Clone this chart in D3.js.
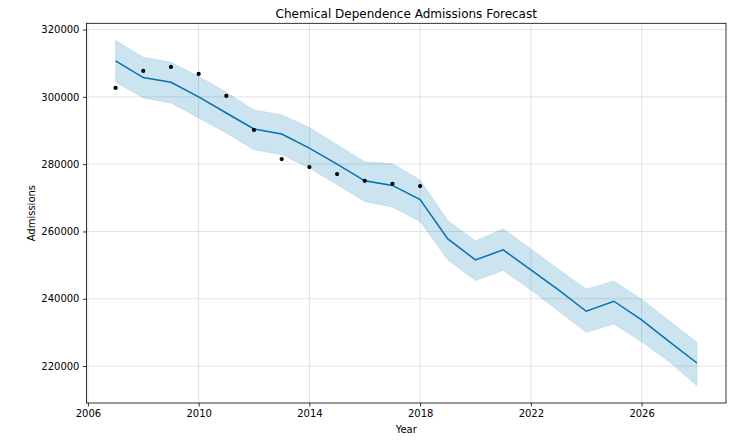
<!DOCTYPE html>
<html>
<head>
<meta charset="utf-8">
<script src="https://cdn.jsdelivr.net/npm/d3@7"></script>
<style>
  body { margin: 0; background: #fff; }
  svg { display: block; font-family: "DejaVu Sans", sans-serif; }
</style>
</head>
<body>
<svg id="chart" width="746" height="441"></svg>
<script>
// observed yearly admissions (2007-2018)
var histYears = [2007, 2008, 2009, 2010, 2011, 2012, 2013, 2014, 2015, 2016, 2017, 2018];
var actual = [302650, 307700, 308900, 306800, 300270, 290150, 281520, 279140, 277050, 275060, 274170, 273480];

// forecast (2007-2028)
var fcYears = [2007, 2008, 2009, 2010, 2011, 2012, 2013, 2014, 2015, 2016, 2017,
  2018, 2019, 2020, 2021, 2022, 2023, 2024, 2025, 2026, 2027, 2028];
var yhat = [310690, 305720, 304330, 299970, 295200, 290450, 288960, 284790, 280030, 275060, 273670,
  269500, 257800, 251550, 254530, 248580, 242620, 236280, 239260, 233700, 227240, 220900];
var yhatUpper = [316730, 311760, 310270, 306100, 301350, 296100, 294700, 290930, 285780, 280720, 280120,
  275300, 263250, 257200, 260780, 254820, 248780, 242830, 245300, 239850, 233500, 227060];
var yhatLower = [304420, 299670, 298180, 293720, 289250, 284290, 282800, 278840, 273870, 268900, 267230,
  262950, 251550, 245400, 248400, 242620, 236380, 230030, 232500, 227240, 221290, 214150];

var yTicks = [220000, 240000, 260000, 280000, 300000, 320000];
var xTicks = [2006, 2010, 2014, 2018, 2022, 2026];

var W = 746, H = 441;
var m = { top: 23.3, right: 20, bottom: 38, left: 86.5 };
var iw = W - m.left - m.right, ih = H - m.top - m.bottom;
var blue = "#0072B2";

function dt(y) { return new Date(y, 0, 1); }

var fc = fcYears.map(function(y, i) {
  return { d: dt(y), v: yhat[i], hi: yhatUpper[i], lo: yhatLower[i] };
});
var hist = histYears.map(function(y, i) { return { d: dt(y), v: actual[i] }; });

// matplotlib style 5% padding
var t0 = dt(fcYears[0]).getTime(), t1 = dt(fcYears[fcYears.length - 1]).getTime();
var tp = (t1 - t0) * 0.05;
var vmin = d3.min(yhatLower), vmax = d3.max(yhatUpper);
var vp = (vmax - vmin) * 0.05;

var x = d3.scaleTime().domain([new Date(t0 - tp), new Date(t1 + tp)]).range([0, iw]);
var y = d3.scaleLinear().domain([vmin - vp, vmax + vp]).range([ih, 0]);

var svg = d3.select("#chart");
var g = svg.append("g").attr("transform", "translate(" + m.left + "," + m.top + ")");

// grid
g.append("g").selectAll("line").data(xTicks).join("line")
  .attr("x1", function(d) { return x(dt(d)); }).attr("x2", function(d) { return x(dt(d)); })
  .attr("y1", 0).attr("y2", ih)
  .attr("stroke", "#808080").attr("stroke-opacity", 0.22).attr("stroke-width", 1);
g.append("g").selectAll("line").data(yTicks).join("line")
  .attr("y1", function(d) { return y(d); }).attr("y2", function(d) { return y(d); })
  .attr("x1", 0).attr("x2", iw)
  .attr("stroke", "#808080").attr("stroke-opacity", 0.22).attr("stroke-width", 1);

// uncertainty band
g.append("path").datum(fc)
  .attr("fill", blue).attr("fill-opacity", 0.2)
  .attr("stroke", blue).attr("stroke-opacity", 0.12).attr("stroke-width", 1)
  .attr("d", d3.area()
    .x(function(d) { return x(d.d); })
    .y0(function(d) { return y(d.lo); })
    .y1(function(d) { return y(d.hi); }));

// forecast line
g.append("path").datum(fc)
  .attr("fill", "none").attr("stroke", blue).attr("stroke-width", 1.5)
  .attr("d", d3.line().x(function(d) { return x(d.d); }).y(function(d) { return y(d.v); }));

// observations
g.append("g").selectAll("circle").data(hist).join("circle")
  .attr("cx", function(d) { return x(d.d); })
  .attr("cy", function(d) { return y(d.v); })
  .attr("r", 2.1).attr("fill", "#000");

// axes
var xAxis = g.append("g").attr("transform", "translate(0," + ih + ")")
  .call(d3.axisBottom(x).tickValues(xTicks.map(dt)).tickFormat(d3.timeFormat("%Y")).tickSizeInner(3.5).tickSizeOuter(0).tickPadding(3.5));
var yAxis = g.append("g")
  .call(d3.axisLeft(y).tickValues(yTicks).tickFormat(d3.format("d")).tickSizeInner(3.5).tickSizeOuter(0).tickPadding(3.5));
[xAxis, yAxis].forEach(function(a) {
  a.select(".domain").remove();
  a.selectAll("text").attr("font-size", 10).attr("fill", "#000").attr("font-family", "DejaVu Sans");
  a.selectAll("line").attr("stroke", "#000").attr("stroke-width", 0.8);
});

// frame
g.append("rect").attr("width", iw).attr("height", ih)
  .attr("fill", "none").attr("stroke", "#000").attr("stroke-width", 0.8);

// labels
svg.append("text").attr("x", m.left + iw / 2).attr("y", 18)
  .attr("text-anchor", "middle").attr("font-size", 12).text("Chemical Dependence Admissions Forecast");
svg.append("text").attr("x", m.left + iw / 2).attr("y", 433)
  .attr("text-anchor", "middle").attr("font-size", 10).text("Year");
svg.append("text").attr("transform", "translate(35," + (m.top + ih / 2) + ") rotate(-90)")
  .attr("text-anchor", "middle").attr("font-size", 10).text("Admissions");
</script>
</body>
</html>
